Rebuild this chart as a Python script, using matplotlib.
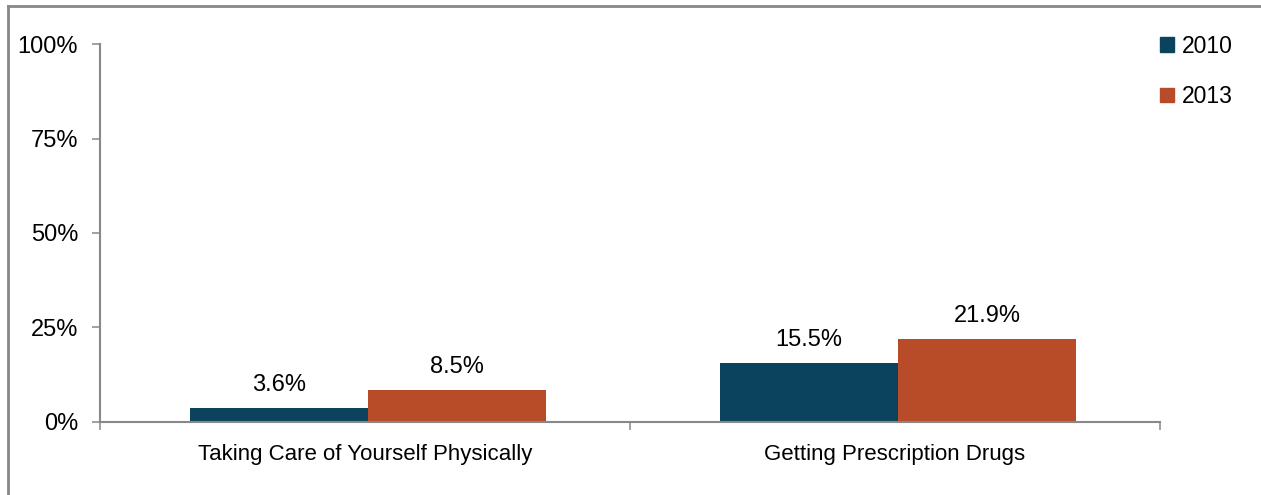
import matplotlib.pyplot as plt
from matplotlib.lines import Line2D
from matplotlib.patches import Patch

categories = ["Taking Care of Yourself Physically", "Getting Prescription Drugs"]
years = ["2010", "2013"]
vals_2010 = [3.6, 15.5]
vals_2013 = [8.5, 21.9]
colors = ["#0B425E", "#B84C29"]

plt.rcParams['font.family'] = ['Liberation Sans', 'DejaVu Sans']

fig = plt.figure(figsize=(12.61, 4.95), dpi=100)
ax = fig.add_axes([0.0793, 0.1475, 0.8406, 0.7636])

w = 0.336
x = [0, 1]
off = 0.006
b1 = ax.bar([i - w / 2 + off for i in x], vals_2010, w, color=colors[0], label=years[0])
b2 = ax.bar([i + w / 2 + off for i in x], vals_2013, w, color=colors[1], label=years[1])
for bars, vals in [(b1, vals_2010), (b2, vals_2013)]:
    for r, v in zip(bars, vals):
        ax.text(r.get_x() + r.get_width() / 2, v + 4.5, f"{v:.1f}%",
                ha='center', va='baseline', fontsize=17)

ax.set_xlim(-0.5, 1.5)
ax.set_ylim(0, 100)
ax.set_yticks([0, 25, 50, 75, 100])
ax.set_yticklabels(["0%", "25%", "50%", "75%", "100%"], fontsize=17)
ax.set_xticks([-0.5, 0.5, 1.5], minor=False)
ax.set_xticklabels([])
ax.set_xticks(x, minor=True)
ax.set_xticklabels(categories, minor=True, fontsize=16)
ax.tick_params(axis='x', which='minor', length=0, pad=16)
ax.tick_params(axis='x', which='major', length=5.8, width=1.1, color='#888888')
ax.tick_params(axis='y', length=5.8, width=1.1, color='#888888', pad=10)

for s in ['top', 'right']:
    ax.spines[s].set_visible(False)
for s in ['left', 'bottom']:
    ax.spines[s].set_color('#888888')
    ax.spines[s].set_linewidth(1.5)

handles = [Patch(color=colors[0], label=years[0]), Patch(color=colors[1], label=years[1])]
leg = ax.legend(handles=handles, loc='upper left', bbox_to_anchor=(1.0, 1.025),
                frameon=False, fontsize=16.5, handlelength=0.6, handleheight=0.6,
                handletextpad=0.35, labelspacing=1.2, borderaxespad=0, borderpad=0)

# outer frame lines (left and top only)
fig.add_artist(Line2D([0.0063, 0.0063], [0.0, 0.988], color='#888888', lw=2))
fig.add_artist(Line2D([0.0063, 1.0], [0.988, 0.988], color='#888888', lw=2))

fig.savefig("out.png", dpi=100)
